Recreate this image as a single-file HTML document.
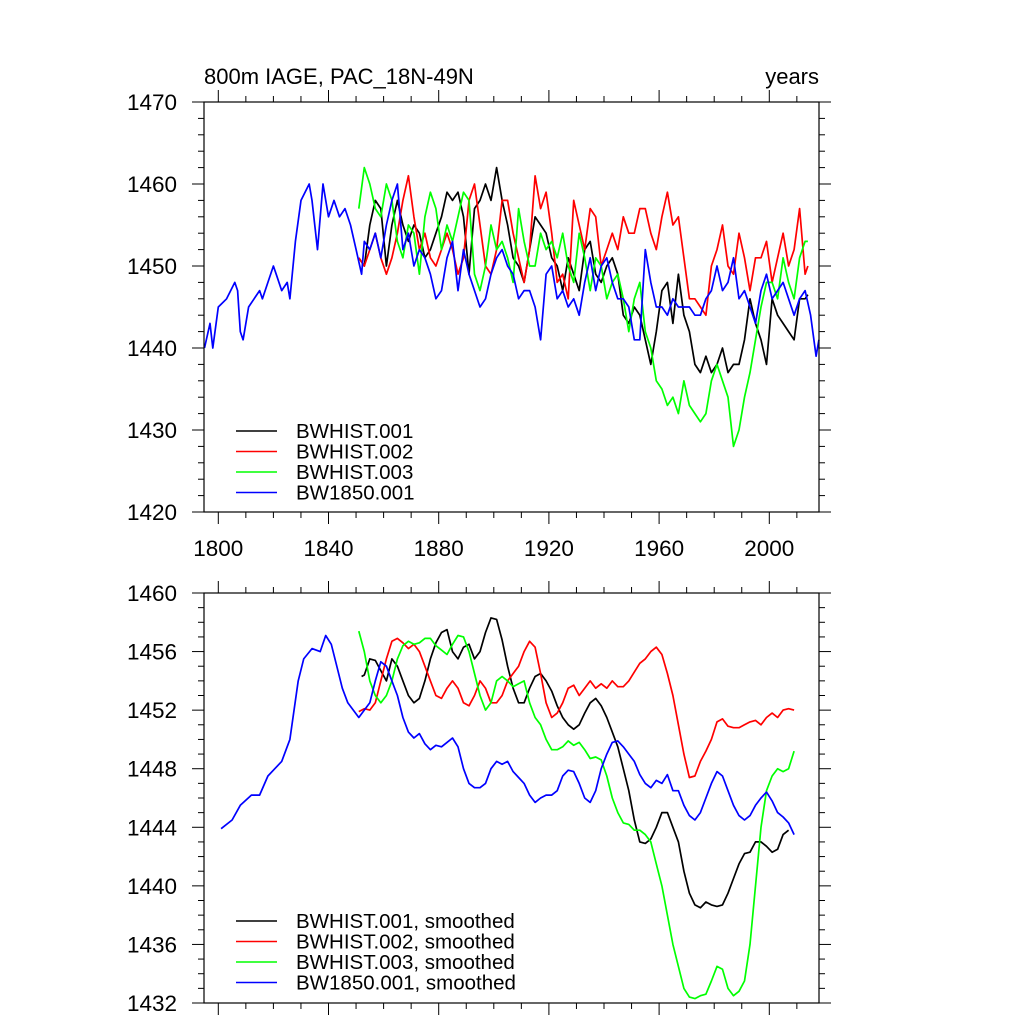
<!DOCTYPE html>
<html><head><meta charset="utf-8"><style>
html,body{margin:0;padding:0;background:#fff;}
svg{display:block;font-family:"Liberation Sans",sans-serif;}
</style></head><body>
<svg id="chart" width="1024" height="1024" viewBox="0 0 1024 1024" xmlns="http://www.w3.org/2000/svg">
<rect width="1024" height="1024" fill="#fff"/>
<text x="204" y="84" font-size="22">800m IAGE, PAC_18N-49N</text>
<text x="819" y="84" font-size="22" text-anchor="end">years</text>
<g id="top"></g>
<g id="bot"></g>
</svg>
<script>
// ---- data: annual series (top panel) ----
const blueYears=[1795,1797,1798,1800,1803,1806,1807,1808,1809,1811,1813,1815,1816,1818,1820,1821,1823,1825,1826,1828,1830,1833,1834,1836,1838,1840,1842,1844,1846,1848,1850,1852,1853,1855,1857,1859,1861,1863,1865,1867,1869,1871,1873,1875,1877,1879,1881,1883,1885,1887,1889,1891,1893,1895,1897,1899,1901,1903,1905,1907,1909,1911,1913,1915,1917,1919,1921,1923,1925,1927,1929,1931,1933,1935,1937,1939,1941,1943,1945,1947,1949,1951,1953,1955,1957,1959,1961,1963,1965,1967,1969,1971,1973,1975,1977,1979,1981,1983,1985,1987,1989,1991,1993,1995,1997,1999,2001,2003,2005,2007,2009,2011,2013,2015,2017,2018];
const blueVals=[1440,1443,1440,1445,1446,1448,1447,1442,1441,1445,1446,1447,1446,1448,1450,1449,1447,1448,1446,1453,1458,1460,1458,1452,1460,1456,1458,1456,1457,1455,1452,1449,1453,1452,1454,1451,1455,1458,1460,1452,1454,1450,1452,1451,1449,1446,1447,1451,1453,1447,1452,1449,1447,1445,1446,1449,1451,1452,1450,1449,1446,1447,1447,1445,1441,1449,1450,1446,1447,1445,1446,1444,1448,1451,1447,1450,1451,1448,1446,1446,1445,1441,1441,1452,1448,1445,1445,1444,1446,1445,1445,1445,1444,1444,1446,1447,1450,1447,1448,1451,1446,1447,1445,1443,1447,1449,1446,1447,1448,1446,1444,1446,1447,1444,1439,1441];
const histYears=[1851,1853,1855,1857,1859,1861,1863,1865,1867,1869,1871,1873,1875,1877,1879,1881,1883,1885,1887,1889,1891,1893,1895,1897,1899,1901,1903,1905,1907,1909,1911,1913,1915,1917,1919,1921,1923,1925,1927,1929,1931,1933,1935,1937,1939,1941,1943,1945,1947,1949,1951,1953,1955,1957,1959,1961,1963,1965,1967,1969,1971,1973,1975,1977,1979,1981,1983,1985,1987,1989,1991,1993,1995,1997,1999,2001,2003,2005,2007,2009,2011,2013,2014];
const blackVals=[1451,1450,1455,1458,1457,1450,1455,1458,1455,1453,1455,1454,1451,1452,1454,1456,1459,1458,1459,1456,1449,1457,1458,1460,1458,1462,1458,1455,1451,1450,1448,1452,1456,1455,1454,1451,1450,1447,1451,1449,1447,1452,1453,1449,1448,1450,1451,1449,1444,1443,1445,1444,1441,1438,1442,1447,1448,1443,1449,1444,1442,1438,1437,1439,1437,1438,1440,1437,1438,1438,1441,1446,1443,1441,1438,1446,1444,1443,1442,1441,1446,1446,1446.5];
const redVals=[1451,1450,1452,1454,1451,1449,1451,1454,1458,1461,1456,1452,1454,1451,1450,1452,1454,1452,1449,1451,1458,1460,1455,1450,1449,1452,1458,1458,1454,1451,1448,1452,1461,1457,1459,1454,1448,1449,1446,1458,1455,1452,1457,1456,1450,1452,1454,1452,1456,1454,1454,1457,1457,1454,1452,1456,1459,1455,1456,1451,1446,1446,1445,1444,1450,1452,1455,1450,1449,1454,1451,1447,1451,1451,1453,1448,1451,1454,1450,1452,1457,1449,1450];
const greenVals=[1457,1462,1460,1457,1456,1460,1458,1453,1451,1455,1454,1449,1456,1459,1457,1452,1455,1453,1456,1459,1458,1449,1447,1450,1455,1452,1453,1451,1448,1457,1453,1450,1450,1454,1452,1453,1451,1454,1450,1448,1454,1451,1447,1451,1450,1446,1448,1449,1446,1442,1446,1448,1442,1440,1436,1435,1433,1434,1432,1436,1433,1432,1431,1432,1436,1438,1436,1434,1428,1430,1434,1437,1441,1445,1448,1448,1446,1451,1448,1446,1451,1453,1453];
// ---- data: smoothed series (bottom panel) ----
const sBlueYears=[1801,1805,1808,1812,1815,1818,1820,1823,1826,1829,1831,1834,1837,1839,1841,1843,1845,1847,1849,1851,1853,1855,1857,1859,1861,1863,1865,1867,1869,1871,1873,1875,1877,1879,1881,1883,1885,1887,1889,1891,1893,1895,1897,1899,1901,1903,1905,1907,1909,1911,1913,1915,1917,1919,1921,1923,1925,1927,1929,1931,1933,1935,1937,1939,1941,1943,1945,1947,1949,1951,1953,1955,1957,1959,1961,1963,1965,1967,1969,1971,1973,1975,1977,1979,1981,1983,1985,1987,1989,1991,1993,1995,1997,1999,2001,2003,2005,2007,2009];
const sBlueVals=[1443.9,1444.5,1445.5,1446.2,1446.2,1447.5,1447.9,1448.5,1450,1454,1455.5,1456.2,1456,1457.1,1456.5,1455,1453.5,1452.5,1452,1451.5,1452,1452.5,1454,1455.3,1455,1454,1453,1451.5,1450.5,1450.1,1450.4,1449.7,1449.3,1449.6,1449.5,1449.8,1450.1,1449.5,1448,1447,1446.7,1446.7,1447,1448,1448.5,1448.3,1448.5,1447.8,1447.4,1447,1446.2,1445.7,1446,1446.2,1446.2,1446.5,1447.5,1447.9,1447.8,1447,1446,1445.7,1446.5,1448,1449,1449.8,1449.9,1449.5,1449,1448.5,1447.6,1447,1446.7,1447.2,1447,1447.6,1446.5,1446.5,1445.5,1444.8,1444.5,1445,1446,1447,1447.8,1447.5,1446.5,1445.5,1444.8,1444.5,1444.8,1445.5,1446,1446.4,1445.8,1445,1444.7,1444.3,1443.5];
const sBlackYears=[1852,1853,1855,1857,1859,1861,1863,1865,1867,1869,1871,1873,1875,1877,1879,1881,1883,1885,1887,1889,1891,1893,1895,1897,1899,1901,1903,1905,1907,1909,1911,1913,1915,1917,1919,1921,1923,1925,1927,1929,1931,1933,1935,1937,1939,1941,1943,1945,1947,1949,1951,1953,1955,1957,1959,1961,1963,1965,1967,1969,1971,1973,1975,1977,1979,1981,1983,1985,1987,1989,1991,1993,1995,1997,1999,2001,2003,2005,2007];
const sBlackVals=[1454.3,1454.4,1455.5,1455.4,1454.7,1454,1455.5,1455,1454,1453,1452.5,1452.8,1454,1455.5,1456.6,1457.3,1457.5,1456,1455.5,1456.3,1456.5,1455.5,1456,1457.3,1458.3,1458.2,1456.8,1455,1453.5,1452.5,1452.5,1453.5,1454.3,1454.5,1454,1453.3,1452.3,1451.5,1451,1450.7,1451,1451.8,1452.5,1452.8,1452.3,1451.5,1450.5,1449.5,1448,1446.5,1444.5,1443,1442.9,1443.2,1444,1445,1445,1444,1443,1441,1439.5,1438.7,1438.5,1438.9,1438.7,1438.6,1438.7,1439.5,1440.5,1441.5,1442.2,1442.3,1443,1443,1442.7,1442.3,1442.5,1443.5,1443.8];
const sHistYears=[1851,1853,1855,1857,1859,1861,1863,1865,1867,1869,1871,1873,1875,1877,1879,1881,1883,1885,1887,1889,1891,1893,1895,1897,1899,1901,1903,1905,1907,1909,1911,1913,1915,1917,1919,1921,1923,1925,1927,1929,1931,1933,1935,1937,1939,1941,1943,1945,1947,1949,1951,1953,1955,1957,1959,1961,1963,1965,1967,1969,1971,1973,1975,1977,1979,1981,1983,1985,1987,1989,1991,1993,1995,1997,1999,2001,2003,2005,2007,2009];
const sRedVals=[1451.9,1452.1,1452,1452.5,1454,1455.5,1456.7,1456.9,1456.6,1456.2,1456.5,1456,1455,1454,1453,1452.8,1453.5,1454,1453.5,1452.5,1452.3,1453,1454,1453.5,1452.5,1452.5,1453,1454,1454.5,1455,1456,1456.7,1456.3,1454.5,1452.5,1451.5,1451.8,1452.5,1453.5,1453.7,1453,1453.5,1454,1453.5,1453.8,1453.5,1454,1453.6,1453.6,1454,1454.6,1455.2,1455.5,1456,1456.3,1455.8,1454.5,1453,1451,1449,1447.4,1447.5,1448.5,1449.2,1450,1451.2,1451.4,1450.9,1450.8,1450.8,1451,1451.2,1451.3,1451,1451.5,1451.8,1451.5,1452,1452.1,1452];
const sGreenVals=[1457.4,1456,1454,1453,1452.5,1453,1454,1455.5,1456.4,1456.7,1456.5,1456.6,1456.9,1456.9,1456.4,1456.1,1455.8,1456.5,1457.1,1457,1456,1454.5,1453,1452,1452.5,1454,1454.3,1454,1453.6,1453.8,1454,1452.5,1451.5,1451,1450,1449.3,1449.3,1449.5,1449.9,1449.6,1449.8,1449.3,1448.7,1448.8,1448.6,1447.5,1446,1445,1444.3,1444.2,1443.8,1443.8,1443.5,1443,1441.5,1440,1438,1436,1434.5,1433,1432.4,1432.3,1432.5,1432.6,1433.5,1434.5,1434.3,1433,1432.5,1432.8,1433.5,1436,1440,1444,1446.5,1447.5,1448,1447.8,1448,1449.2];
const xTickYears=[1800,1840,1880,1920,1960,2000];
const topYTicks=[1420,1430,1440,1450,1460,1470];
const botYTicks=[1432,1436,1440,1444,1448,1452,1456,1460];
const topLegend=["BWHIST.001","BWHIST.002","BWHIST.003","BW1850.001"];
const botLegend=["BWHIST.001, smoothed","BWHIST.002, smoothed","BWHIST.003, smoothed","BW1850.001, smoothed"];

const NS="http://www.w3.org/2000/svg";
const L=204,R=819;
const xS=y=>218.3+(y-1800)*(769.3-218.3)/200;
function mk(tag,attrs,parent){const e=document.createElementNS(NS,tag);for(const k in attrs)e.setAttribute(k,attrs[k]);parent.appendChild(e);return e;}

function panel(g,top,bot,ymin,ymax,yTicks,minorStep,series,legend,legTop,showXLabels){
  const yS=v=>bot-(v-ymin)*(bot-top)/(ymax-ymin);
  for(let yr=1800;yr<=2010;yr+=10){
    const x=xS(yr);const major=(yr-1800)%40===0;const len=major?12:6;
    const t1=mk('line',{x1:x,x2:x,y1:bot,y2:bot+len,stroke:'#000','stroke-width':1},g);
    
    
    const t2=mk('line',{x1:x,x2:x,y1:top,y2:top-len,stroke:'#000','stroke-width':1},g);
    
    
  }
  for(let v=ymin;v<=ymax+1e-6;v+=minorStep){
    const y=yS(v);const major=yTicks.includes(v);const len=major?12:6;
    const a=mk('line',{x1:L,x2:L-len,y1:y,y2:y,stroke:'#000','stroke-width':1},g);
    
    
    const b=mk('line',{x1:R,x2:R+len,y1:y,y2:y,stroke:'#000','stroke-width':1},g);
    
    
  }
  yTicks.forEach(v=>{
    const t=mk('text',{x:177,y:yS(v)+8,'font-size':22.5,'text-anchor':'end'},g);t.textContent=v;
    
    
  });
  if(showXLabels) xTickYears.forEach(yr=>{
    const t=mk('text',{x:xS(yr),y:bot+44,'font-size':22.5,'text-anchor':'middle'},g);t.textContent=yr;
    
    
  });
  series.forEach(s=>{
    const d=s.xs.map((yr,i)=>(i?'L':'M')+xS(yr).toFixed(1)+','+yS(s.vs[i]).toFixed(1)).join('');
    const p=mk('path',{d:d,fill:'none',stroke:s.c,'stroke-width':1.7,'stroke-linejoin':'round'},g);
    
    
  });
  const fr=mk('rect',{x:L,y:top,width:R-L,height:bot-top,fill:'none',stroke:'#000','stroke-width':1.2},g);
  
  
  legend.forEach((lab,i)=>{
    const y=legTop+i*20.5;
    const ln=mk('line',{x1:236,x2:277,y1:y,y2:y,stroke:series[i].c,'stroke-width':1.6},g);
    
    
    const t=mk('text',{x:296,y:y+7,'font-size':20.5},g);t.textContent=lab;
    
    
  });
}
panel(document.getElementById('top'),102,512,1420,1470,topYTicks,2,[
  {xs:histYears,vs:blackVals,c:'#000',n:'bwhist-001-line'},
  {xs:histYears,vs:redVals,c:'#f00',n:'bwhist-002-line'},
  {xs:histYears,vs:greenVals,c:'#0f0',n:'bwhist-003-line'},
  {xs:blueYears,vs:blueVals,c:'#00f',n:'bw1850-001-line'}],topLegend,431,true);
panel(document.getElementById('bot'),593,1003,1432,1460,botYTicks,1,[
  {xs:sBlackYears,vs:sBlackVals,c:'#000',n:'bwhist-001-smoothed'},
  {xs:sHistYears,vs:sRedVals,c:'#f00',n:'bwhist-002-smoothed'},
  {xs:sHistYears,vs:sGreenVals,c:'#0f0',n:'bwhist-003-smoothed'},
  {xs:sBlueYears,vs:sBlueVals,c:'#00f',n:'bw1850-001-smoothed'}],botLegend,921,false);
</script>
</body></html>
